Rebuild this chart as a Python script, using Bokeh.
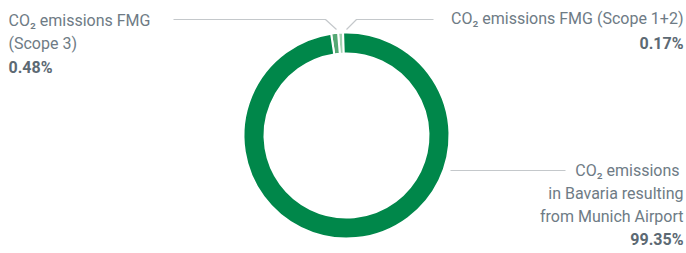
import math
from bokeh.plotting import figure
from bokeh.models import Range1d, ColumnDataSource
from bokeh.embed import file_html
from bokeh.resources import INLINE
from bokeh.core.properties import value

# ---- data ----
slice_names = ["CO₂ emissions FMG (Scope 1+2)", "CO₂ emissions FMG (Scope 3)",
               "CO₂ emissions in Bavaria resulting from Munich Airport"]
slice_shares = [0.17, 0.48, 99.35]
slice_colors = ["#a3d2b2", "#55a874", "#00874a"]
share_labels = ["0.17%", "0.48%", "99.35%"]

# ---- layout ----
W, H = 686, 253
def X(sx):
    return sx
def Y(sy):
    return H - sy

p = figure(width=W, height=H, output_backend="svg", toolbar_location=None,
           x_range=Range1d(0, W), y_range=Range1d(0, H),
           x_axis_location=None, y_axis_location=None, min_border=0)
p.grid.visible = False
p.outline_line_color = None
p.background_fill_color = "white"
p.border_fill_color = "white"

# donut with small padding so tiny slices stay visible
pad = 2.2
n = len(slice_shares)
total = sum(slice_shares)
start = 91.9
starts, ends = [], []
a = start
for v in slice_shares:
    w = v / total * (360 - n * pad) + pad
    starts.append(math.radians(a))
    ends.append(math.radians(a + w))
    a += w

cx, cy = X(346), Y(135)
src = ColumnDataSource(dict(x=[cx] * n, y=[cy] * n, s=starts, e=ends, c=slice_colors))
p.annular_wedge(x="x", y="y", inner_radius=82, outer_radius=103, start_angle="s",
                end_angle="e", fill_color="c", line_color="white", line_width=2,
                source=src)

# connector lines
line_col = "#c4c8cb"
p.line([X(173), X(325), X(336)], [Y(19), Y(19), Y(29)], line_color=line_col, line_width=1.2)
p.line([X(346), X(356), X(433)], [Y(29), Y(19), Y(19)], line_color=line_col, line_width=1.2)
p.line([X(450), X(565)], [Y(170), Y(170)], line_color=line_col, line_width=1.2)

font = value("Roboto")
txt_col = "#6e7b85"
val_col = "#5c6973"
fs = "16px"

def label(x, ys, lines, align, val):
    p.text(x=[x] * len(lines), y=ys[:len(lines)], text=lines, text_font=font,
           text_font_size=fs, text_color=txt_col, text_align=align,
           text_baseline="middle")
    p.text(x=[x], y=[ys[len(lines)]], text=[val], text_font=font,
           text_font_size=fs, text_color=val_col, text_font_style="bold",
           text_align=align, text_baseline="middle")

label(X(8), [Y(20), Y(43), Y(67)], ["CO₂ emissions FMG", "(Scope 3)"], "left", share_labels[1])
label(X(683), [Y(18), Y(43)], ["CO₂ emissions FMG (Scope 1+2)"], "right", share_labels[0])
label(X(683), [Y(170), Y(193), Y(216), Y(239)],
      ["CO₂  emissions", "in Bavaria resulting", "from Munich Airport"], "right", share_labels[2])

open("out.html", "w").write(file_html(p, INLINE))
